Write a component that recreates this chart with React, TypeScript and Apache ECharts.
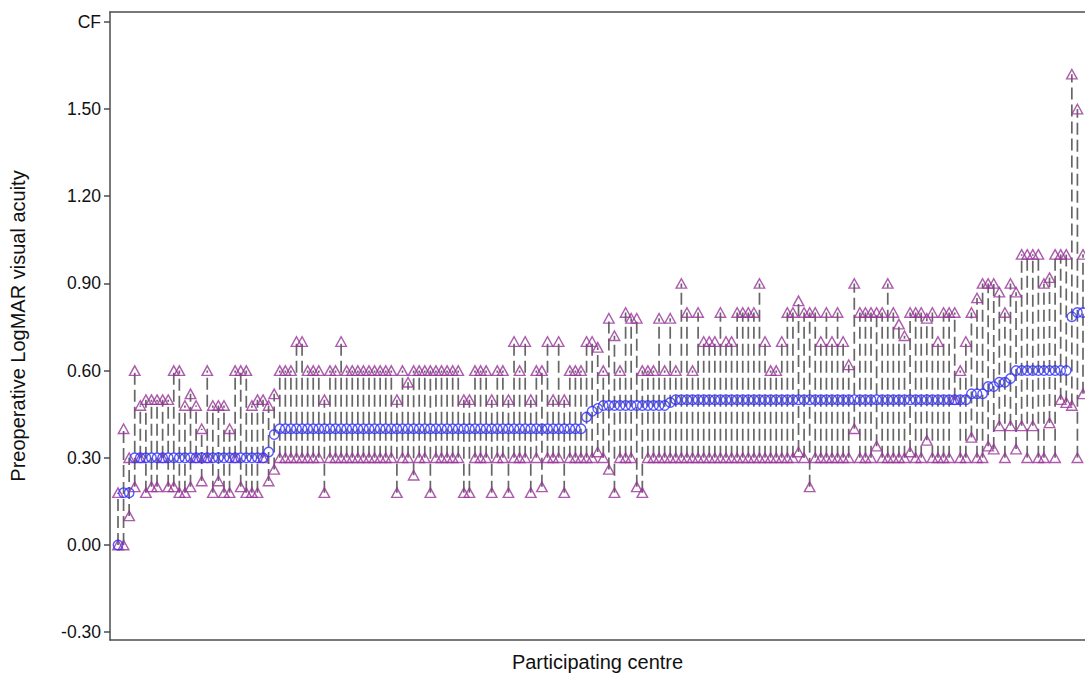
import React, { useEffect, useRef } from "react";
import * as echarts from "echarts";

// Per-centre preoperative LogMAR values (centres ordered by median)
const medians = [
  0.00, 0.18, 0.18, 0.30, 0.30, 0.30, 0.30, 0.30, 0.30, 0.30,
  0.30, 0.30, 0.30, 0.30, 0.30, 0.30, 0.30, 0.30, 0.30, 0.30,
  0.30, 0.30, 0.30, 0.30, 0.30, 0.30, 0.30, 0.32, 0.38, 0.40,
  0.40, 0.40, 0.40, 0.40, 0.40, 0.40, 0.40, 0.40, 0.40, 0.40,
  0.40, 0.40, 0.40, 0.40, 0.40, 0.40, 0.40, 0.40, 0.40, 0.40,
  0.40, 0.40, 0.40, 0.40, 0.40, 0.40, 0.40, 0.40, 0.40, 0.40,
  0.40, 0.40, 0.40, 0.40, 0.40, 0.40, 0.40, 0.40, 0.40, 0.40,
  0.40, 0.40, 0.40, 0.40, 0.40, 0.40, 0.40, 0.40, 0.40, 0.40,
  0.40, 0.40, 0.40, 0.40, 0.44, 0.46, 0.47, 0.48, 0.48, 0.48,
  0.48, 0.48, 0.48, 0.48, 0.48, 0.48, 0.48, 0.48, 0.48, 0.49,
  0.50, 0.50, 0.50, 0.50, 0.50, 0.50, 0.50, 0.50, 0.50, 0.50,
  0.50, 0.50, 0.50, 0.50, 0.50, 0.50, 0.50, 0.50, 0.50, 0.50,
  0.50, 0.50, 0.50, 0.50, 0.50, 0.50, 0.50, 0.50, 0.50, 0.50,
  0.50, 0.50, 0.50, 0.50, 0.50, 0.50, 0.50, 0.50, 0.50, 0.50,
  0.50, 0.50, 0.50, 0.50, 0.50, 0.50, 0.50, 0.50, 0.50, 0.50,
  0.50, 0.50, 0.50, 0.52, 0.52, 0.52, 0.545, 0.545, 0.56, 0.56,
  0.573, 0.60, 0.60, 0.60, 0.60, 0.60, 0.60, 0.60, 0.60, 0.60,
  0.60, 0.785, 0.80, 0.80,
];

const highs = [
  0.18, 0.40, 0.30, 0.60, 0.48, 0.50, 0.50, 0.50, 0.50, 0.50,
  0.60, 0.60, 0.48, 0.52, 0.48, 0.40, 0.60, 0.48, 0.48, 0.48,
  0.40, 0.60, 0.60, 0.60, 0.48, 0.50, 0.50, 0.48, 0.52, 0.60,
  0.60, 0.60, 0.70, 0.70, 0.60, 0.60, 0.60, 0.50, 0.60, 0.60,
  0.70, 0.60, 0.60, 0.60, 0.60, 0.60, 0.60, 0.60, 0.60, 0.60,
  0.50, 0.60, 0.56, 0.60, 0.60, 0.60, 0.60, 0.60, 0.60, 0.60,
  0.60, 0.60, 0.50, 0.50, 0.60, 0.60, 0.60, 0.50, 0.60, 0.60,
  0.50, 0.70, 0.60, 0.70, 0.50, 0.60, 0.60, 0.70, 0.50, 0.70,
  0.50, 0.60, 0.60, 0.60, 0.70, 0.70, 0.68, 0.60, 0.78, 0.72,
  0.60, 0.80, 0.78, 0.78, 0.60, 0.60, 0.60, 0.78, 0.60, 0.78,
  0.60, 0.90, 0.80, 0.60, 0.80, 0.70, 0.70, 0.70, 0.80, 0.70,
  0.70, 0.80, 0.80, 0.80, 0.80, 0.90, 0.70, 0.60, 0.60, 0.70,
  0.80, 0.80, 0.84, 0.80, 0.80, 0.80, 0.70, 0.80, 0.70, 0.80,
  0.70, 0.62, 0.90, 0.80, 0.80, 0.80, 0.80, 0.80, 0.90, 0.80,
  0.76, 0.72, 0.80, 0.80, 0.80, 0.78, 0.80, 0.70, 0.80, 0.80,
  0.80, 0.60, 0.70, 0.80, 0.85, 0.90, 0.90, 0.90, 0.87, 0.80,
  0.90, 0.87, 1.00, 1.00, 1.00, 1.00, 0.90, 0.92, 1.00, 1.00,
  1.00, 1.62, 1.50, 1.00,
];

const lows = [
  0.00, 0.00, 0.10, 0.20, 0.30, 0.18, 0.20, 0.20, 0.30, 0.20,
  0.20, 0.18, 0.18, 0.20, 0.30, 0.22, 0.30, 0.18, 0.22, 0.18,
  0.18, 0.30, 0.20, 0.18, 0.18, 0.18, 0.30, 0.22, 0.26, 0.30,
  0.30, 0.30, 0.30, 0.30, 0.30, 0.30, 0.30, 0.18, 0.30, 0.30,
  0.30, 0.30, 0.30, 0.30, 0.30, 0.30, 0.30, 0.30, 0.30, 0.30,
  0.18, 0.30, 0.30, 0.24, 0.30, 0.30, 0.18, 0.30, 0.30, 0.30,
  0.30, 0.30, 0.18, 0.18, 0.30, 0.30, 0.30, 0.18, 0.30, 0.30,
  0.18, 0.30, 0.30, 0.30, 0.18, 0.30, 0.20, 0.30, 0.30, 0.30,
  0.18, 0.30, 0.30, 0.30, 0.30, 0.30, 0.32, 0.30, 0.26, 0.18,
  0.30, 0.30, 0.30, 0.20, 0.18, 0.30, 0.30, 0.30, 0.30, 0.30,
  0.30, 0.30, 0.30, 0.30, 0.30, 0.30, 0.30, 0.30, 0.30, 0.30,
  0.30, 0.30, 0.30, 0.30, 0.30, 0.30, 0.30, 0.30, 0.30, 0.30,
  0.30, 0.30, 0.32, 0.30, 0.20, 0.30, 0.30, 0.30, 0.30, 0.30,
  0.30, 0.30, 0.40, 0.30, 0.30, 0.30, 0.34, 0.30, 0.30, 0.30,
  0.30, 0.30, 0.32, 0.30, 0.30, 0.36, 0.30, 0.30, 0.30, 0.30,
  0.50, 0.30, 0.30, 0.37, 0.30, 0.30, 0.34, 0.33, 0.41, 0.30,
  0.41, 0.33, 0.41, 0.30, 0.41, 0.30, 0.30, 0.42, 0.30, 0.50,
  0.49, 0.48, 0.30, 0.52,
];

const yTickValues = [-0.3, 0, 0.3, 0.6, 0.9, 1.2, 1.5, 1.8];
const yTickLabels = ["-0.30", "0.00", "0.30", "0.60", "0.90", "1.20", "1.50", "CF"];

const FONT = "'Liberation Sans', Arial, sans-serif";
const AXIS_COLOR = "#4d4d4d";
const PURPLE = "#993399";
const BLUE = "#2f2fff";

export default function App() {
  const ref = useRef<HTMLDivElement>(null);

  useEffect(() => {
    if (!ref.current) return;
    const chart = echarts.init(ref.current, null, { renderer: "svg" });

    const rangeData = lows.map((lo, i) => [i, lo, highs[i]]);
    const lowData = lows.map((v, i) => [i, v]);
    const highData = highs.map((v, i) => [i, v]);
    const medData = medians.map((v, i) => [i, v]);

    const xMin = -1.434;
    const xMax = 173.36;

    const option: any = {
      animation: false,
      backgroundColor: "#ffffff",
      grid: { left: 110, top: 12, right: 0, bottom: 35, containLabel: false, outerBoundsMode: "none" },
      xAxis: [
        {
          type: "value",
          min: xMin,
          max: xMax,
          position: "bottom",
          axisLine: { show: true, onZero: false, lineStyle: { color: AXIS_COLOR, width: 1.5 } },
          axisTick: { show: false },
          axisLabel: { show: false },
          splitLine: { show: false },
          name: "Participating centre",
          nameLocation: "middle",
          nameGap: 12,
          nameTextStyle: { fontSize: 20, color: "#111", fontFamily: FONT },
        },
        {
          type: "value",
          min: xMin,
          max: xMax,
          position: "top",
          axisLine: { show: true, onZero: false, lineStyle: { color: AXIS_COLOR, width: 1.5 } },
          axisTick: { show: false },
          axisLabel: { show: false },
          splitLine: { show: false },
        },
      ],
      yAxis: {
        type: "value",
        min: -0.327,
        max: 1.834,
        axisLine: { show: true, onZero: false, lineStyle: { color: AXIS_COLOR, width: 1.5 } },
        axisTick: {
          show: true,
          length: 6,
          customValues: yTickValues,
          lineStyle: { color: AXIS_COLOR, width: 1.5 },
        },
        axisLabel: {
          customValues: yTickValues,
          formatter: (v: number) => {
            const idx = yTickValues.findIndex((t) => Math.abs(t - v) < 1e-6);
            return idx >= 0 ? yTickLabels[idx] : "";
          },
          fontSize: 17.5,
          color: "#111",
          fontFamily: FONT,
          margin: 9,
        },
        splitLine: { show: false },
        name: "Preoperative LogMAR visual acuity",
        nameLocation: "middle",
        nameGap: 82,
        nameTextStyle: { fontSize: 20, color: "#111", fontFamily: FONT },
      },
      series: [
        {
          type: "custom",
          name: "Range",
          xAxisIndex: 0,
          yAxisIndex: 0,
          z: 1,
          data: rangeData,
          encode: { x: 0, y: [1, 2] },
          renderItem: (params: any, api: any) => {
            const x = api.value(0);
            const p1 = api.coord([x, api.value(1)]);
            const p2 = api.coord([x, api.value(2)]);
            return {
              type: "line",
              shape: { x1: p1[0], y1: p1[1], x2: p2[0], y2: p2[1] },
              style: { stroke: "#666", lineWidth: 1.7, lineDash: [12, 5] },
            };
          },
        },
        {
          type: "scatter",
          name: "Lowest",
          z: 2,
          data: lowData,
          symbol: "triangle",
          symbolSize: [10.5, 9.5],
          itemStyle: { color: "rgba(0,0,0,0)", borderColor: PURPLE, borderWidth: 1.4 },
        },
        {
          type: "scatter",
          name: "Highest",
          z: 2,
          data: highData,
          symbol: "triangle",
          symbolSize: [10.5, 9.5],
          itemStyle: { color: "rgba(0,0,0,0)", borderColor: PURPLE, borderWidth: 1.4 },
        },
        {
          type: "scatter",
          name: "Median",
          z: 3,
          data: medData,
          symbol: "circle",
          symbolSize: 9.5,
          itemStyle: { color: "rgba(0,0,0,0)", borderColor: BLUE, borderWidth: 1.4 },
        },
      ],
    };

    chart.setOption(option);
    return () => chart.dispose();
  }, []);

  return (
    <div
      ref={ref}
      style={{ position: "fixed", left: 0, top: 0, width: 1085, height: 675, background: "#fff" }}
    />
  );
}
